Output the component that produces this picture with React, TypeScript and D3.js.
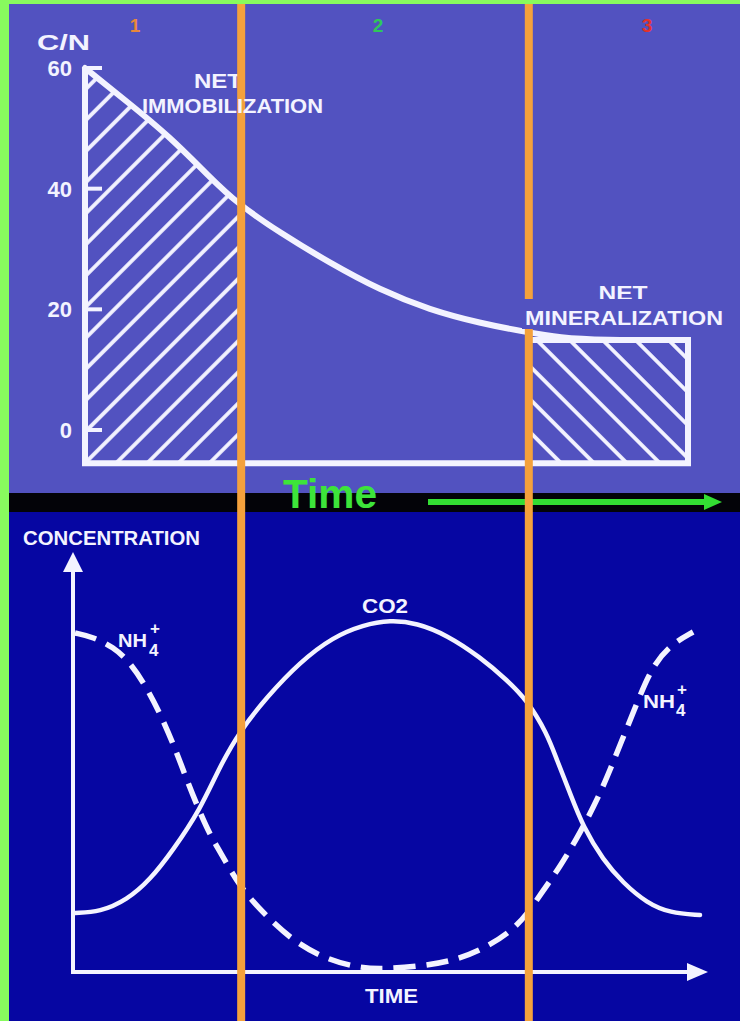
import React from 'react';
import * as d3 from 'd3';

// ---------- Top panel: C/N ratio over time ----------
const CN_TIME = [0, 7, 14.1, 20.7, 25.2, 32.3, 40.6, 48.9, 57.2, 65.5, 73.3, 78.8, 85.4, 100];
const CN_VALUE = [60, 54.4, 48.6, 41.9, 37.6, 32.7, 27.7, 23.2, 19.9, 17.7, 16.2, 15.3, 14.9, 14.9];
const CN_TICKS = [0, 20, 40, 60];
const CN_FLOOR = -5.5;
const MINERAL_LEVEL = 14.9;

// phase boundaries (top time units) and phase labels
const PHASE_BOUNDS = [25.9, 73.6];
const PHASE_LABELS = ['1', '2', '3'];
const PHASE_LABEL_AT = [8.3, 48.6, 93.2];
const PHASE_COLORS = ['#e8873a', '#2fc85a', '#e2322b'];

// ---------- Bottom panel: concentrations over time ----------
const CO2_TIME = [0, 4, 8.3, 12, 15.7, 20, 23.2, 26.4, 30.7, 36, 41.3, 46.1, 50.4, 54.7, 59.5, 64.8, 69.1, 72.3, 75.5, 77.1, 79.2, 81.3, 84.5, 87.7, 91.5, 95.2, 100];
const CO2_VALUE = [14.75, 15, 18, 23, 30.5, 40.5, 51.5, 60.25, 68.75, 77.5, 83.75, 86.75, 88, 87.25, 84.25, 78.75, 73, 68, 59.75, 53, 44.75, 36.25, 28, 22.25, 17.25, 14.75, 14.25];
const NH4_TIME = [0, 2.9, 6.1, 8.8, 11.7, 14.1, 16.3, 17.9, 19.7, 21.6, 23.7, 26.4, 30.1, 34.7, 39.7, 45.3, 49.6, 55.7, 61.1, 65.9, 69.9, 72.6, 74.4, 77.6, 80.8, 83.7, 85.8, 87.2, 89.8, 92.2, 95.2, 98.9];
const NH4_VALUE = [84.75, 83.75, 81.25, 77.5, 70.5, 63, 54.75, 48, 41, 34.25, 28.75, 21.25, 14.75, 8, 3.5, 1, 0.75, 1.5, 3, 6.25, 10.25, 15, 19.25, 26.25, 34.75, 43.5, 51.25, 56.75, 66.75, 76, 81.75, 85];

const WHITE = '#f3f3ff';
const ORANGE = '#f4a13c';
const TOP_BG = '#5252c0';
const BOT_BG = '#0606a2';
const BORDER = '#88fa5e';
const FONT = "'Liberation Sans', Arial, sans-serif";

export default function App() {
  const W = 740, H = 1021;
  const xTop = d3.scaleLinear().domain([0, 100]).range([85, 688]);
  const yTop = d3.scaleLinear().domain([0, 60]).range([430, 68]);
  const xBot = d3.scaleLinear().domain([0, 100]).range([75, 700]);
  const yBot = d3.scaleLinear().domain([0, 100]).range([972, 572]);

  const cnPts: [number, number][] = CN_TIME.map((t, i) => [t, CN_VALUE[i]]);
  const cnLine = d3.line<[number, number]>().x(d => xTop(d[0])).y(d => yTop(d[1])).curve(d3.curveBasis);
  const cnArea = d3.area<[number, number]>().x(d => xTop(d[0])).y0(yTop(CN_FLOOR)).y1(d => yTop(d[1])).curve(d3.curveBasis);

  const co2Pts: [number, number][] = CO2_TIME.map((t, i) => [t, CO2_VALUE[i]]);
  const nh4Pts: [number, number][] = NH4_TIME.map((t, i) => [t, NH4_VALUE[i]]);
  const botLine = d3.line<[number, number]>().x(d => xBot(d[0])).y(d => yBot(d[1])).curve(d3.curveBasis);

  const x0 = xTop(0), xEnd = xTop(100), yFloor = yTop(CN_FLOOR), yMin = yTop(MINERAL_LEVEL);
  const b1 = xTop(PHASE_BOUNDS[0]), b2 = xTop(PHASE_BOUNDS[1]);

  const bx0 = xBot(0) - 2, by0 = yBot(0);
  const axTip = xBot(100) + 8, ayTip = yBot(100) - 20;

  return (
    <svg width={W} height={H} viewBox={`0 0 ${W} ${H}`} style={{ position: 'absolute', left: 0, top: 0, display: 'block' }}>
      <defs>
        <pattern id="hatchA" patternUnits="userSpaceOnUse" width={22} height={22}
          patternTransform={`translate(${x0},${yFloor}) rotate(45)`}>
          <rect x={-1.9} y={0} width={3.8} height={22} fill={WHITE} />
          <rect x={20.1} y={0} width={3.8} height={22} fill={WHITE} />
        </pattern>
        <pattern id="hatchB" patternUnits="userSpaceOnUse" width={23.3} height={23.3}
          patternTransform={`translate(${b2 + 8},${yMin}) rotate(-45)`}>
          <rect x={-1.9} y={0} width={3.8} height={23.3} fill={WHITE} />
          <rect x={21.4} y={0} width={3.8} height={23.3} fill={WHITE} />
        </pattern>
        <clipPath id="clipA">
          <rect x={x0} y={0} width={b1 - x0} height={yFloor} />
        </clipPath>
      </defs>

      {/* backgrounds */}
      <rect x={0} y={0} width={W} height={H} fill={BORDER} />
      <rect x={9} y={4} width={W - 9} height={489} fill={TOP_BG} />
      <rect x={9} y={493} width={W - 9} height={19} fill="#030308" />
      <rect x={9} y={512} width={W - 9} height={H - 512} fill={BOT_BG} />

      {/* top panel */}
      <path d={cnArea(cnPts) || ''} fill="url(#hatchA)" clipPath="url(#clipA)" />
      <rect x={b2} y={yMin} width={xEnd - b2} height={yFloor - yMin} fill="url(#hatchB)" />
      <path d={`M${x0},${yTop(60)}V${yFloor}H${xEnd}V${yMin}H${b2}`} fill="none" stroke={WHITE} strokeWidth={6} strokeLinejoin="miter" />
      <path d={cnLine(cnPts) || ''} fill="none" stroke={WHITE} strokeWidth={6} strokeLinecap="round" />
      {CN_TICKS.map(v => (
        <g key={v}>
          <line x1={x0} x2={x0 + 17} y1={yTop(v)} y2={yTop(v)} stroke={WHITE} strokeWidth={4} />
          <text x={72} y={yTop(v)} dy="0.36em" textAnchor="end" fill={WHITE} fontFamily={FONT} fontWeight="bold" fontSize={22}>{v}</text>
        </g>
      ))}
      <text x={37} y={50} fill={WHITE} fontFamily={FONT} fontWeight="bold" fontSize={22} textLength={53} lengthAdjust="spacingAndGlyphs">C/N</text>
      <text x={218} y={88} textAnchor="middle" fill={WHITE} fontFamily={FONT} fontWeight="bold" fontSize={21} textLength={48} lengthAdjust="spacingAndGlyphs">NET</text>
      <text x={623} y={300} textAnchor="middle" fill={WHITE} fontFamily={FONT} fontWeight="bold" fontSize={21} textLength={49} lengthAdjust="spacingAndGlyphs">NET</text>
      {PHASE_LABELS.map((l, i) => (
        <text key={l} x={xTop(PHASE_LABEL_AT[i])} y={32} textAnchor="middle" fill={PHASE_COLORS[i]} fontFamily={FONT} fontWeight="bold" fontSize={19}>{l}</text>
      ))}

      {/* bottom panel axes */}
      <path d={`M${bx0},${ayTip + 14}V${by0}H${axTip - 14}`} fill="none" stroke={WHITE} strokeWidth={4} />
      <path d={`M${bx0},${ayTip}L${bx0 - 10},${ayTip + 20}L${bx0 + 10},${ayTip + 20}Z`} fill={WHITE} />
      <path d={`M${axTip},${by0}L${axTip - 21},${by0 - 9}L${axTip - 21},${by0 + 9}Z`} fill={WHITE} />
      <text x={23} y={545} fill={WHITE} fontFamily={FONT} fontWeight="bold" fontSize={21} textLength={177} lengthAdjust="spacingAndGlyphs">CONCENTRATION</text>
      <text x={365} y={1003} fill={WHITE} fontFamily={FONT} fontWeight="bold" fontSize={21} textLength={53} lengthAdjust="spacingAndGlyphs">TIME</text>

      {/* curves */}
      <path d={botLine(co2Pts) || ''} fill="none" stroke={WHITE} strokeWidth={4.5} strokeLinecap="round" />
      <path d={botLine(nh4Pts) || ''} fill="none" stroke={WHITE} strokeWidth={5.5} strokeDasharray="22 11" />
      <text x={362} y={613} fill={WHITE} fontFamily={FONT} fontWeight="bold" fontSize={21} textLength={46} lengthAdjust="spacingAndGlyphs">CO2</text>
      <g fill={WHITE} fontFamily={FONT} fontWeight="bold">
        <text x={118} y={647} fontSize={19} textLength={29} lengthAdjust="spacingAndGlyphs">NH</text>
        <text x={149} y={656} fontSize={17}>4</text>
        <text x={150} y={634} fontSize={17}>+</text>
        <text x={643} y={708} fontSize={19} textLength={32} lengthAdjust="spacingAndGlyphs">NH</text>
        <text x={676} y={716} fontSize={17}>4</text>
        <text x={677} y={695} fontSize={17}>+</text>
      </g>

      {/* Time label & arrow */}
      <text x={283} y={508} fill="#3de43a" fontFamily={FONT} fontWeight="bold" fontSize={40} textLength={94} lengthAdjust="spacingAndGlyphs">Time</text>
      <line x1={428} x2={708} y1={502} y2={502} stroke="#33dd33" strokeWidth={6} />
      <path d="M722,502L704,494L704,510Z" fill="#33dd33" />

      {/* phase boundary lines */}
      {PHASE_BOUNDS.map(b => (
        <rect key={b} x={xTop(b) - 4} y={4} width={8} height={H - 4} fill={ORANGE} />
      ))}

      {/* labels drawn over boundary lines */}
      <rect x={522} y={299} width={203} height={30} fill={TOP_BG} />
      <text x={525} y={325} fill={WHITE} fontFamily={FONT} fontWeight="bold" fontSize={21} textLength={198} lengthAdjust="spacingAndGlyphs">MINERALIZATION</text>
      <text x={142} y={113} fill={WHITE} fontFamily={FONT} fontWeight="bold" fontSize={21} textLength={181} lengthAdjust="spacingAndGlyphs">IMMOBILIZATION</text>
    </svg>
  );
}
